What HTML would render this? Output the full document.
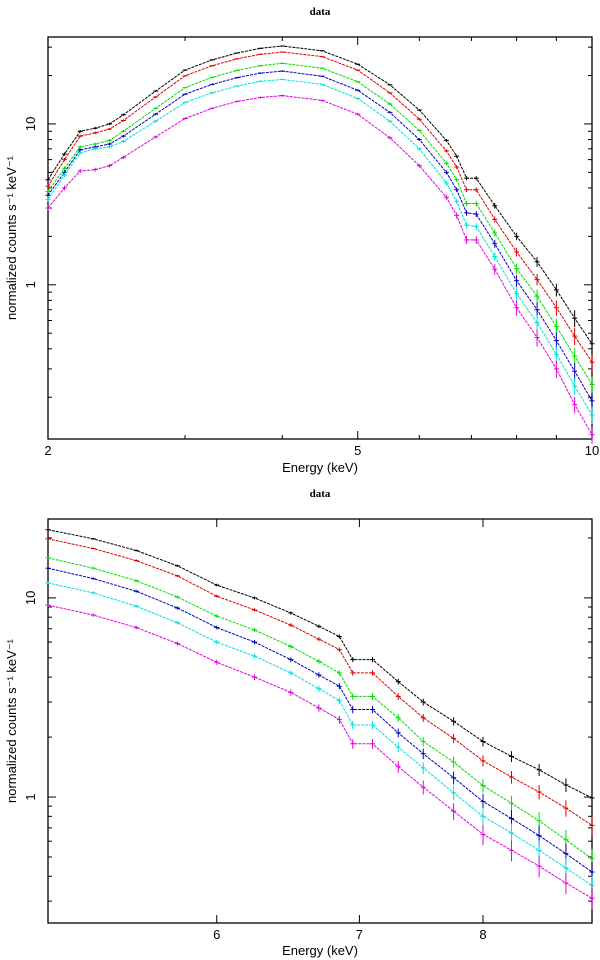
<!DOCTYPE html>
<html><head><meta charset="utf-8"><style>
html,body{margin:0;padding:0;background:#fff;}
svg{display:block;}
text{font-family:"Liberation Sans",sans-serif;}
</style></head><body>
<svg id="chart" width="600" height="960" viewBox="0 0 600 960" xmlns="http://www.w3.org/2000/svg"></svg>
<script>
// ---- Panel 1 data ----
const energies1 = [2,2.1,2.2,2.3,2.4,2.5,2.75,3,3.25,3.5,3.75,4,4.5,5,5.5,6,6.5,6.7,6.9,7.1,7.5,8,8.5,9,9.5,10];
const black1   = [4.5,6.5,9.0,9.4,10.0,11.4,16,21.6,25,27.6,29.5,30.5,28.5,23.5,17.5,12.2,7.9,6.3,4.6,4.6,3.1,2.0,1.39,0.93,0.62,0.43];
const red1     = [4.1,6.0,8.4,8.8,9.3,10.5,14.7,19.9,23,25.4,27.1,28,26.2,21.6,15.6,10.7,6.8,5.4,3.9,3.9,2.55,1.6,1.08,0.72,0.48,0.33];
const green1   = [3.8,5.3,7.2,7.5,7.9,9.0,12.5,16.8,19.5,21.5,23,23.8,22.2,18.3,13.3,9.1,5.7,4.5,3.2,3.2,2.1,1.26,0.85,0.55,0.36,0.24];
const blue1    = [3.6,5.0,6.9,7.2,7.5,8.4,11.5,15.3,17.6,19.4,20.7,21.3,19.8,16.2,11.8,8.0,5.0,3.9,2.8,2.75,1.8,1.06,0.7,0.45,0.29,0.19];
const cyan1    = [3.4,4.8,6.6,7.0,7.2,7.8,10.4,13.6,15.6,17.2,18.4,18.9,17.6,14.4,10.4,7.0,4.3,3.3,2.35,2.3,1.5,0.88,0.58,0.37,0.235,0.155];
const magenta1 = [3.0,4.0,5.1,5.2,5.5,6.2,8.3,10.8,12.5,13.8,14.6,15.0,14.0,11.5,8.2,5.5,3.5,2.7,1.9,1.9,1.25,0.72,0.47,0.3,0.18,0.117];
const xTicks1 = [2,5,10];
const yTicks1 = [1,10];
// ---- Panel 2 data ----
const energies2 = [5,5.25,5.5,5.75,6,6.25,6.5,6.7,6.85,6.95,7.1,7.3,7.5,7.75,8,8.25,8.5,8.75,9];
const black2   = [22,19.8,17.3,14.5,11.6,10.0,8.4,7.2,6.4,4.9,4.9,3.8,3.0,2.4,1.9,1.6,1.37,1.15,0.99];
const red2     = [19.8,17.7,15.4,12.9,10.2,8.7,7.3,6.2,5.5,4.2,4.2,3.2,2.5,1.97,1.52,1.26,1.06,0.88,0.72];
const green2   = [15.9,14.1,12.2,10.1,8.1,6.9,5.7,4.8,4.2,3.2,3.2,2.5,1.9,1.5,1.14,0.93,0.76,0.61,0.49];
const blue2    = [14.1,12.5,10.8,8.9,7.1,6.0,4.9,4.1,3.6,2.75,2.75,2.1,1.65,1.25,0.95,0.78,0.64,0.52,0.42];
const cyan2    = [11.9,10.6,9.1,7.5,6.0,5.1,4.2,3.5,3.05,2.3,2.3,1.78,1.4,1.05,0.8,0.66,0.54,0.44,0.36];
const magenta2 = [9.2,8.2,7.1,5.9,4.75,4.0,3.35,2.8,2.45,1.85,1.85,1.42,1.12,0.85,0.65,0.54,0.45,0.37,0.31];
const xTicks2 = [6,7,8];
const yTicks2 = [1,10];

const NS="http://www.w3.org/2000/svg";
const svg=document.getElementById('chart');
function mk(tag,attrs,parent){const e=document.createElementNS(NS,tag);for(const k in attrs)e.setAttribute(k,attrs[k]);(parent||svg).appendChild(e);return e;}
const colors=['#000000','#e00000','#00e000','#0000c0','#00e0e0','#e000e0'];
const names=['black','red','green','blue','cyan','magenta'];

function panel(cfg){
  const {L,R,T,B,xmin,xmax,ymin,ymax,energies,series,xTicks,yTicks,id,minorX}=cfg;
  const g=mk('g',{});
  
  
  const xs=v=>L+(Math.log(v)-Math.log(xmin))/(Math.log(xmax)-Math.log(xmin))*(R-L);
  const ys=v=>B-(Math.log(v)-Math.log(ymin))/(Math.log(ymax)-Math.log(ymin))*(B-T);
  const fr=mk('rect',{x:L,y:T,width:R-L,height:B-T,fill:'none',stroke:'#000','stroke-width':1.3},g);
  
  
  for(let d=-2;d<=2;d++){for(let m=1;m<=9;m++){const v=m*Math.pow(10,d);if(v<ymin||v>ymax)continue;const y=ys(v);const len=m===1?8:4;
    mk('line',{x1:L,x2:L+len,y1:y,y2:y,stroke:'#000','stroke-width':1},g);
    mk('line',{x1:R,x2:R-len,y1:y,y2:y,stroke:'#000','stroke-width':1},g);}}
  yTicks.forEach(v=>{const t=mk('text',{x:0,y:0,'font-size':13,'text-anchor':'middle',transform:`translate(${L-13},${ys(v)}) rotate(-90)`},g);t.textContent=String(v);
    
    });
  minorX.forEach(v=>{const x=xs(v);mk('line',{x1:x,x2:x,y1:B,y2:B-4,stroke:'#000'},g);mk('line',{x1:x,x2:x,y1:T,y2:T+4,stroke:'#000'},g);});
  xTicks.forEach(v=>{const x=xs(v);mk('line',{x1:x,x2:x,y1:B,y2:B-8,stroke:'#000'},g);mk('line',{x1:x,x2:x,y1:T,y2:T+8,stroke:'#000'},g);
    const t=mk('text',{x:x,y:B+16,'font-size':13,'text-anchor':'middle'},g);t.textContent=String(v);
    
    });
  series.forEach((vals,si)=>{
    const sg=mk('g',{stroke:colors[si],fill:'none','stroke-width':1},g);
    
    
    let pts=vals.map((v,i)=>xs(energies[i]).toFixed(1)+','+ys(v).toFixed(1)).join(' ');
    mk('polyline',{points:pts,'stroke-dasharray':'3,1'},sg);
    vals.forEach((v,i)=>{
      const x=xs(energies[i]);
      const f=Math.min(0.12,0.008*Math.pow(30/v,0.7));
      const y=ys(v);
      const e=mk('line',{x1:x-2.5,x2:x+2.5,y1:y,y2:y},sg);
      
      
      mk('line',{x1:x,x2:x,y1:ys(v*(1+f)),y2:ys(v*(1-f))},sg);
    });
  });
}
panel({L:48,R:592,T:37,B:439,xmin:2,xmax:10,ymin:0.11,ymax:34.7,energies:energies1,
  series:[black1,red1,green1,blue1,cyan1,magenta1],xTicks:xTicks1,yTicks:yTicks1,id:'panel-top',minorX:[3,4,6,7,8,9]});
panel({L:48,R:592,T:519,B:923,xmin:5,xmax:9,ymin:0.233,ymax:24.9,energies:energies2,
  series:[black2,red2,green2,blue2,cyan2,magenta2],xTicks:xTicks2,yTicks:yTicks2,id:'panel-bottom',minorX:[]});

function txt(str,attrs,name){const t=mk('text',attrs);t.textContent=str;
  
  return t;}
txt('data',{x:320,y:15,'font-size':11,'font-weight':'bold','text-anchor':'middle',style:'font-family:"Liberation Serif",serif'},'top-title');
txt('data',{x:320,y:497,'font-size':11,'font-weight':'bold','text-anchor':'middle',style:'font-family:"Liberation Serif",serif'},'bottom-title');
txt('Energy (keV)',{x:320,y:472,'font-size':13,'text-anchor':'middle'},'top-x-axis-title');
txt('Energy (keV)',{x:320,y:955,'font-size':13,'text-anchor':'middle'},'bottom-x-axis-title');
txt('normalized counts s\u207B\u00B9 keV\u207B\u00B9',{x:0,y:0,'font-size':13,'text-anchor':'middle',transform:'translate(16,238) rotate(-90)'},'top-y-axis-title');
txt('normalized counts s\u207B\u00B9 keV\u207B\u00B9',{x:0,y:0,'font-size':13,'text-anchor':'middle',transform:'translate(16,721) rotate(-90)'},'bottom-y-axis-title');
</script>
</body></html>
